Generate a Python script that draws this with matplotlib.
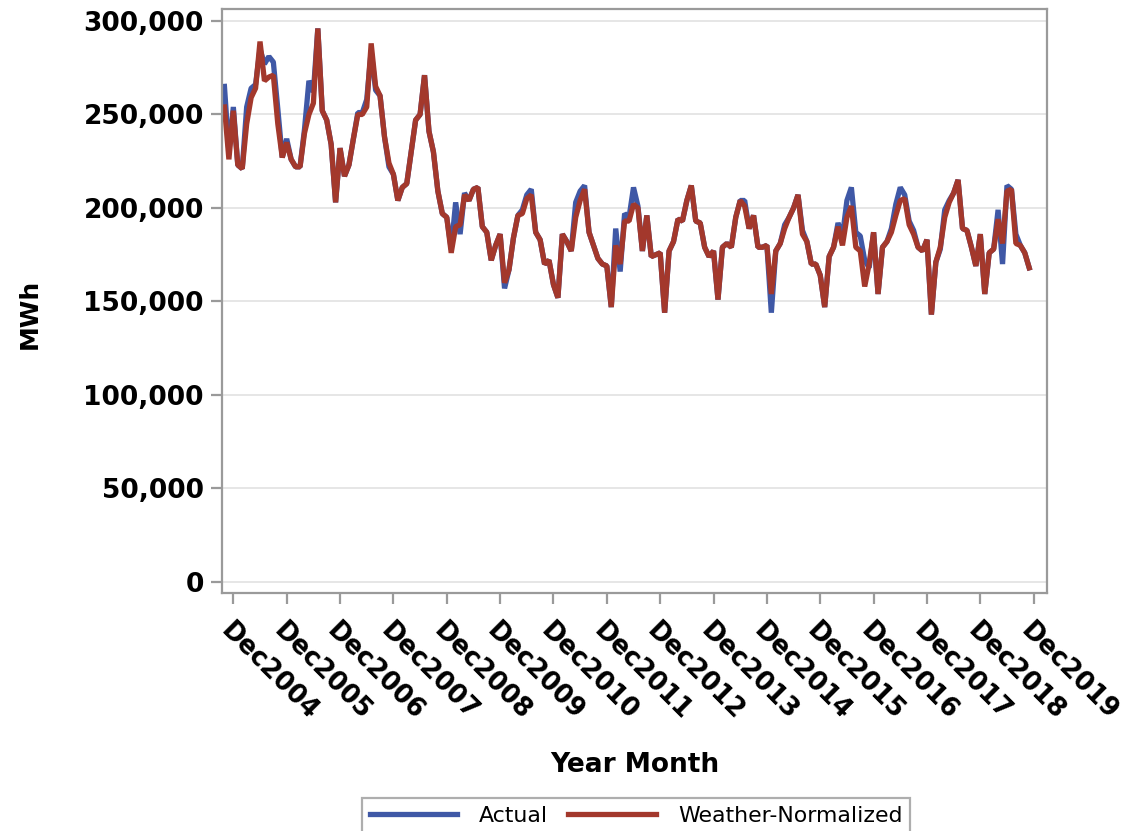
import numpy as np
import pandas as pd
import matplotlib
matplotlib.use('Agg')
import matplotlib.pyplot as plt
from matplotlib.ticker import FuncFormatter

# monthly load, thousands of MWh, Oct 2004 .. Nov 2019
actual_k = [
    265, 230, 254, 223, 221, 254, 264, 266, 285, 277, 281, 278,
    253, 227, 237, 226, 222, 222, 242, 268, 262, 296, 252, 247,
    234, 203, 232, 217, 223, 237, 251, 251, 258, 284, 263, 260,
    238, 222, 218, 204, 211, 213, 230, 247, 250, 271, 241, 230,
    209, 197, 195, 178, 203, 186, 208, 204, 210, 211, 190, 187,
    172, 180, 186, 157, 167, 184, 196, 199, 207, 210, 187, 183,
    170, 172, 159, 152, 186, 182, 177, 203, 209, 212, 187, 180,
    173, 170, 169, 147, 189, 166, 197, 195, 211, 201, 177, 196,
    174, 175, 176, 144, 177, 182, 194, 193, 204, 212, 193, 192,
    179, 174, 177, 151, 179, 181, 179, 195, 204, 204, 189, 196,
    179, 179, 180, 144, 177, 181, 191, 195, 200, 207, 188, 182,
    170, 170, 164, 147, 174, 179, 192, 185, 204, 211, 187, 185,
    172, 168, 187, 154, 179, 182, 189, 202, 211, 207, 193, 188,
    179, 177, 183, 143, 171, 178, 199, 204, 208, 215, 189, 188,
    179, 169, 186, 154, 176, 178, 199, 170, 212, 210, 186, 180,
    176, 168,
]
normalized_k = [
    254, 226, 252, 223, 221, 245, 259, 264, 289, 268, 270, 271,
    245, 227, 235, 226, 222, 222, 240, 250, 256, 296, 252, 247,
    234, 203, 232, 217, 223, 237, 250, 250, 254, 288, 265, 260,
    238, 224, 218, 204, 211, 213, 230, 247, 250, 271, 241, 230,
    209, 197, 195, 176, 190, 191, 207, 204, 210, 211, 190, 187,
    172, 180, 186, 160, 167, 184, 196, 197, 205, 207, 187, 183,
    170, 172, 159, 152, 186, 182, 177, 195, 204, 210, 187, 180,
    173, 170, 169, 147, 180, 170, 193, 193, 202, 200, 177, 196,
    174, 175, 176, 144, 177, 182, 194, 193, 204, 212, 193, 192,
    179, 174, 177, 151, 179, 181, 179, 195, 204, 201, 189, 196,
    179, 179, 180, 154, 177, 181, 189, 195, 200, 207, 186, 182,
    170, 170, 164, 147, 174, 179, 190, 180, 195, 201, 179, 177,
    158, 170, 187, 154, 179, 182, 187, 196, 204, 205, 191, 186,
    179, 177, 183, 143, 171, 179, 195, 203, 208, 215, 189, 188,
    179, 169, 186, 154, 176, 178, 194, 181, 209, 210, 181, 180,
    176, 168,
]
months = pd.date_range('2004-10-01', periods=len(actual_k), freq='MS')
tick_years = list(range(2004, 2020))

actual = np.array(actual_k) * 1000
normalized = np.array(normalized_k) * 1000
x = np.arange(len(months))

# Dec of each year, as month index from the first month
tick_pos = [(y - 2004) * 12 + 2 for y in tick_years]
tick_lab = ['Dec%d' % y for y in tick_years]

fig = plt.figure(figsize=(11.24, 8.31), dpi=100)
ax = fig.add_axes([222 / 1124, 1 - 593 / 831, (1047 - 222) / 1124, (593 - 9) / 831])

ax.plot(x, actual, color='#3F58A6', lw=3.8, solid_joinstyle='bevel', label='Actual')
ax.plot(x, normalized, color='#A3382C', lw=3.8, solid_joinstyle='bevel', label='Weather-Normalized')

ax.set_xlim(-0.55, 185)
ax.set_ylim(-5900, 306400)
ax.set_yticks(np.arange(0, 300001, 50000))
ax.yaxis.set_major_formatter(FuncFormatter(lambda v, p: '{:,.0f}'.format(v)))
ax.set_xticks(tick_pos)
ax.set_xticklabels(tick_lab, rotation=-45, ha='left', va='top', rotation_mode='anchor')

ax.grid(axis='y', color='#E4E4E4', lw=1.3)
ax.set_axisbelow(True)
for s in ax.spines.values():
    s.set_color('#9A9A9A')
    s.set_linewidth(1.6)
ax.tick_params(axis='both', colors='#9A9A9A', length=8, width=1.6, labelcolor='black')
ax.tick_params(axis='y', pad=5)
ax.tick_params(axis='x', pad=10)
for lab in ax.get_yticklabels():
    lab.set_fontsize(19)
    lab.set_fontweight('bold')
for lab in ax.get_xticklabels():
    lab.set_fontsize(18.5)
    lab.set_fontweight('bold')

ax.set_ylabel('MWh', fontsize=18, fontweight='bold')
ax.yaxis.set_label_coords(-0.218, 0.478)
ax.set_xlabel('Year Month', fontsize=19, fontweight='bold', labelpad=19)

leg = fig.legend(loc='upper center', bbox_to_anchor=(636 / 1124, 1 - 798 / 831), ncol=2,
                 fontsize=15.8, frameon=True, fancybox=False, handlelength=4.0,
                 handletextpad=1.0, columnspacing=0.9, borderpad=0.35, borderaxespad=0)
leg.get_frame().set_edgecolor('#9A9A9A')
leg.get_frame().set_linewidth(1.6)

fig.savefig('out.png', dpi=100)
